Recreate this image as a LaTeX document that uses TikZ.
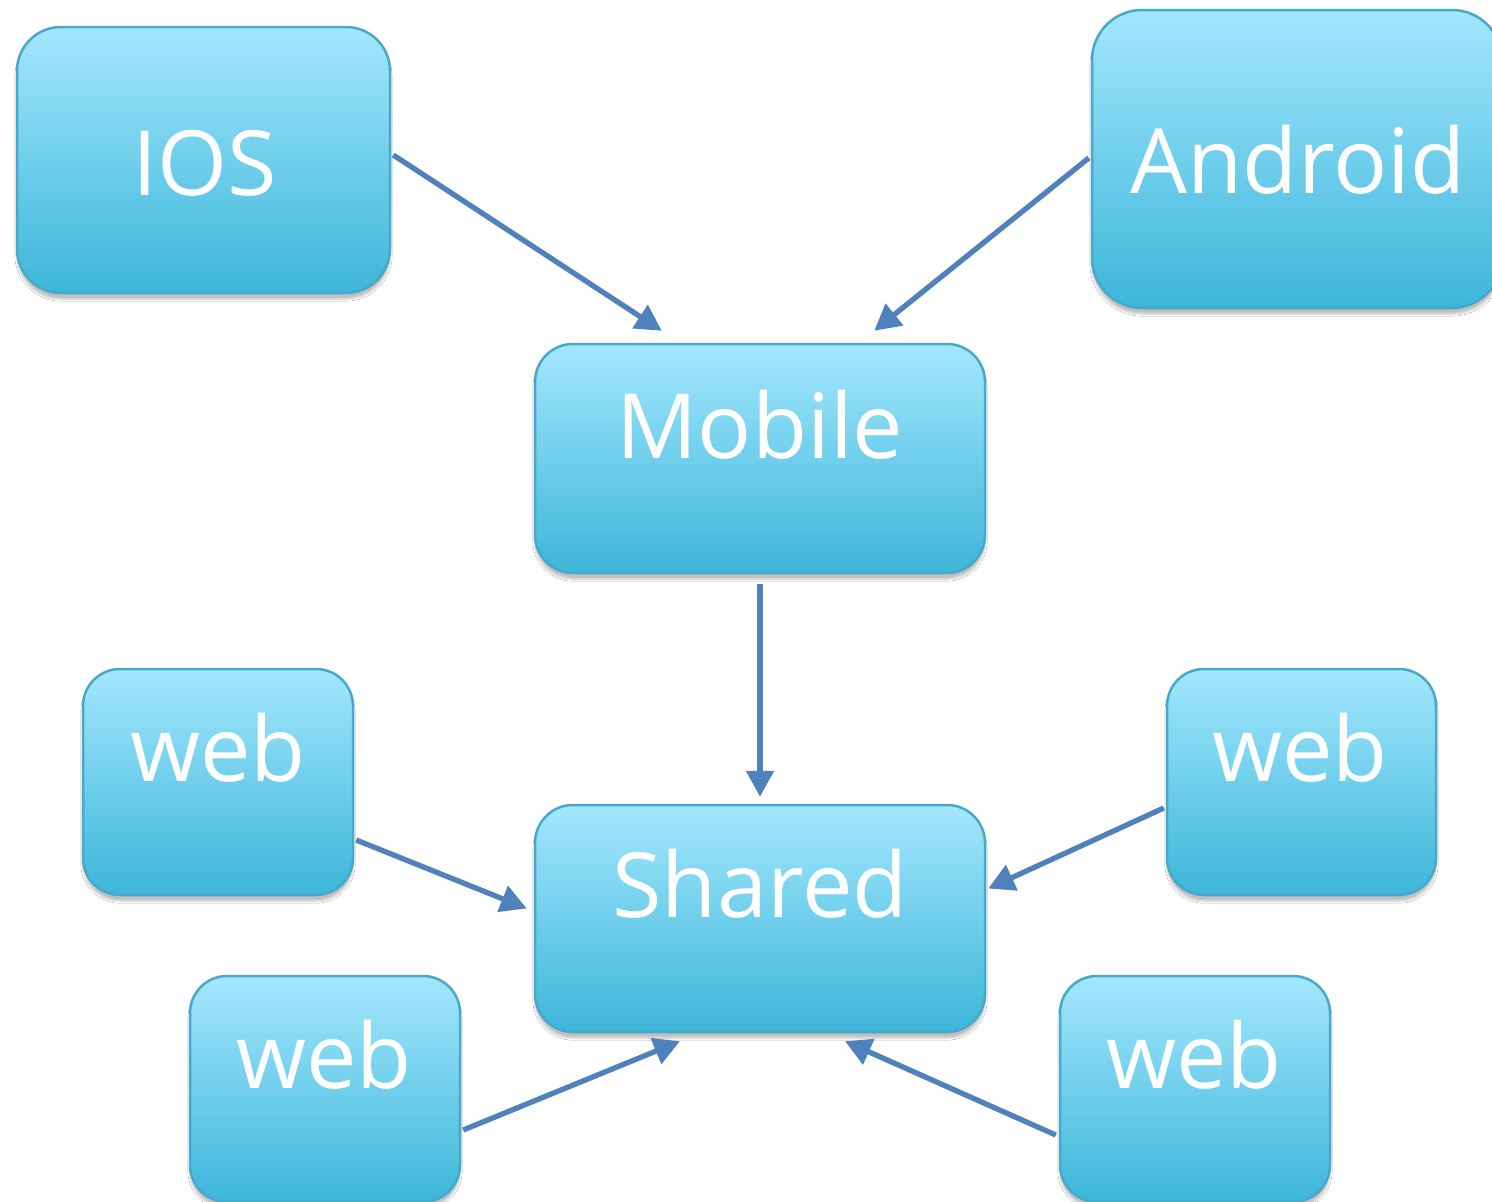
\documentclass[tikz,border=0pt]{standalone}
\usepackage{fontspec}
\setmainfont{Open Sans}
\usetikzlibrary{arrows.meta,calc,shadows.blur}
\definecolor{boxtop}{HTML}{A3E7FD}
\definecolor{boxbot}{HTML}{3DB6DA}
\definecolor{boxline}{HTML}{46A9C9}
\definecolor{arrowc}{HTML}{4F81BD}
\tikzset{
  box/.style={draw=boxline, line width=2.5pt, top color=boxtop, bottom color=boxbot,
    inner sep=0pt, blur shadow={shadow xshift=0pt, shadow yshift=-6pt, shadow blur steps=6, shadow opacity=25}},
  lbl/.style={anchor=base, text=white, inner sep=0pt, font=\fontsize{90}{100}\selectfont},
  arr/.style={draw=arrowc, line width=5.3pt, -{Triangle[length=26pt,width=27pt]}}
}
\begin{document}
\begin{tikzpicture}[x=1pt,y=-1pt]
\useasboundingbox (0,0) rectangle (1492,1202);
\clip (0,0) rectangle (1492,1202);
\fill[white] (0,0) rectangle (1492,1202);
% boxes
\node[box, rounded corners=44pt, minimum width=373pt, minimum height=266pt] (ios) at (203.5,160) {};
\node[box, rounded corners=50pt, minimum width=410pt, minimum height=298pt] (android) at (1297,159) {};
\node[box, rounded corners=38pt, minimum width=450pt, minimum height=229pt] (mobile) at (760,458.5) {};
\node[box, rounded corners=38pt, minimum width=450pt, minimum height=227pt] (shared) at (760,918.5) {};
\node[box, rounded corners=37pt, minimum width=270pt, minimum height=226pt] (wtl) at (218,782) {};
\node[box, rounded corners=37pt, minimum width=269pt, minimum height=226pt] (wtr) at (1301.5,782) {};
\node[box, rounded corners=37pt, minimum width=270pt, minimum height=226pt] (wbl) at (325,1089) {};
\node[box, rounded corners=37pt, minimum width=270pt, minimum height=226pt] (wbr) at (1195,1089) {};
% labels
\node[lbl] (iosT) at (205,195) {IOS};
\node[lbl] (androidT) at (1298,193) {Android};
\node[lbl] (mobileT) at (760,458) {Mobile};
\node[lbl] (sharedT) at (760,917) {Shared};
\node[lbl] (wtlT) at (218,781) {web};
\node[lbl] (wtrT) at (1300,781) {web};
\node[lbl] (wblT) at (324,1088) {web};
\node[lbl] (wbrT) at (1194,1088) {web};
% arrows
\draw[arr] ($(ios.east)+(2,-5)$) -- ($(mobile.north west)+(128,-12)$);
\draw[arr] ($(android.west)+(-2,-1)$) -- ($(mobile.north east)+(-112,-12)$);
\draw[arr] ($(mobile.south)+(0,10)$) -- ($(shared.north)+(0,-7)$);
\draw[arr] ($(wtl.east)+(2,58)$) -- ($(shared.west)+(-7,-10)$);
\draw[arr] ($(wtr.west)+(-2,26)$) -- ($(shared.east)+(2,-30)$);
\draw[arr] ($(wbl.east)+(2,41)$) -- ($(shared.south)+(-80,8)$);
\draw[arr] ($(wbr.west)+(-3,46)$) -- ($(shared.south)+(85,8)$);
\end{tikzpicture}
\end{document}
